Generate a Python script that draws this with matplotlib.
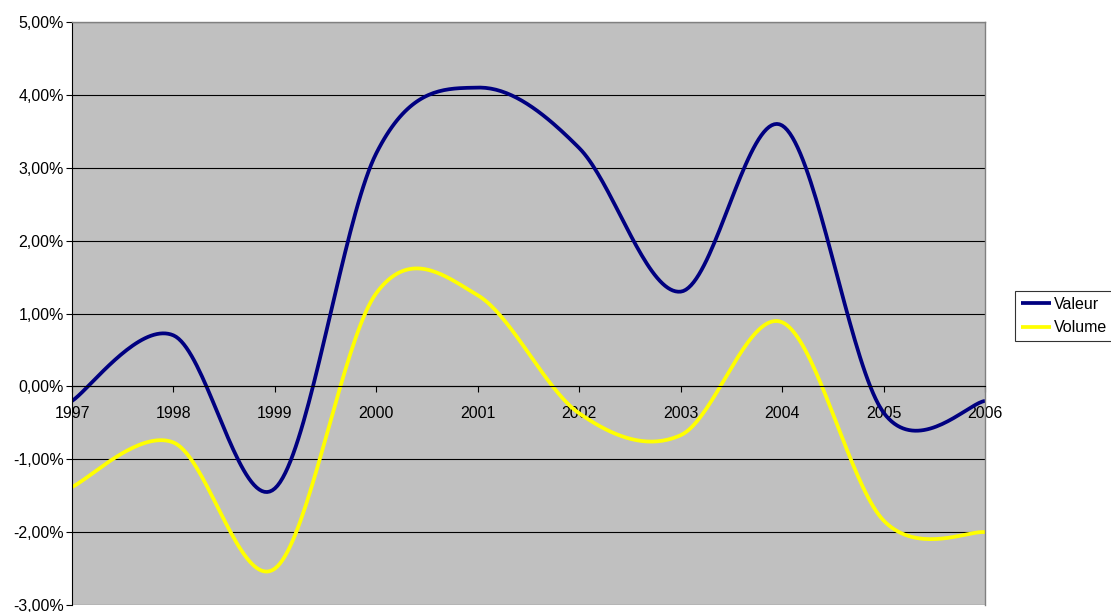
import numpy as np
import matplotlib
matplotlib.use("Agg")
import matplotlib.pyplot as plt
from matplotlib.ticker import FuncFormatter

plt.rcParams['font.family'] = ['Liberation Sans', 'DejaVu Sans']

years = ['1997', '1998', '1999', '2000', '2001', '2002', '2003', '2004', '2005', '2006']
valeur = [-0.20, 0.70, -1.40, 3.20, 4.10, 3.27, 1.30, 3.58, -0.36, -0.20]
volume = [-1.38, -0.77, -2.50, 1.28, 1.25, -0.37, -0.67, 0.88, -1.84, -2.00]


def smooth(y, n=40):
    """Courbe lissée façon Excel (Bezier, type Catmull-Rom)"""
    x = np.arange(len(y), dtype=float)
    y = np.asarray(y, dtype=float)
    pts = np.column_stack([x, y])
    out = []
    t = np.linspace(0, 1, n)[:, None]
    for i in range(len(pts) - 1):
        p0 = pts[max(i - 1, 0)]
        p1 = pts[i]
        p2 = pts[i + 1]
        p3 = pts[min(i + 2, len(pts) - 1)]
        c1 = p1 + (p2 - p0) / 6
        c2 = p2 - (p3 - p1) / 6
        seg = ((1 - t) ** 3) * p1 + 3 * ((1 - t) ** 2) * t * c1 + 3 * (1 - t) * t ** 2 * c2 + t ** 3 * p2
        out.append(seg if i == 0 else seg[1:])
    seg = np.vstack(out)
    return seg[:, 0], seg[:, 1]


fig = plt.figure(figsize=(11.11, 6.12), dpi=100)
ax = fig.add_axes([72 / 1111, 1 - 605 / 612, (985 - 72) / 1111, (605 - 22) / 612])
ax.set_facecolor('#C0C0C0')

xv, yv = smooth(valeur)
xw, yw = smooth(volume)
ax.plot(xv, yv, color='#000080', linewidth=2.7, label='Valeur', solid_capstyle='butt')
ax.plot(xw, yw, color='#FFFF00', linewidth=2.7, label='Volume', solid_capstyle='butt')

ax.set_xlim(0, len(years) - 1)
ax.set_ylim(-3, 5)
ax.set_yticks(np.arange(-3, 5.01, 1))
ax.yaxis.set_major_formatter(FuncFormatter(lambda v, p: f'{v:.2f}%'.replace('.', ',')))
ax.grid(axis='y', color='black', linewidth=0.8)
ax.set_axisbelow(True)

ax.set_xticks(range(len(years)))
ax.set_xticklabels(years)
ax.spines['bottom'].set_position(('data', 0))
ax.spines['bottom'].set_color('black')
ax.spines['bottom'].set_linewidth(0.8)
ax.spines['left'].set_color('black')
ax.spines['left'].set_linewidth(0.8)
for s in ['top', 'right']:
    ax.spines[s].set_color('#808080')
    ax.spines[s].set_linewidth(1)
ax.tick_params(axis='x', direction='out', length=4, width=0.8, labelsize=11.5, pad=10)
ax.tick_params(axis='y', direction='out', length=4, width=0.8, labelsize=11.5, pad=2)

leg = fig.legend(loc='upper left', bbox_to_anchor=(1015 / 1111, 1 - 291 / 612),
                 frameon=True, fancybox=False, fontsize=11.5, handlelength=1.9,
                 handletextpad=0.2, borderpad=0.35, labelspacing=0.55, borderaxespad=0)
leg.get_frame().set_edgecolor('black')
leg.get_frame().set_linewidth(0.8)

fig.savefig('out.png', dpi=100)
